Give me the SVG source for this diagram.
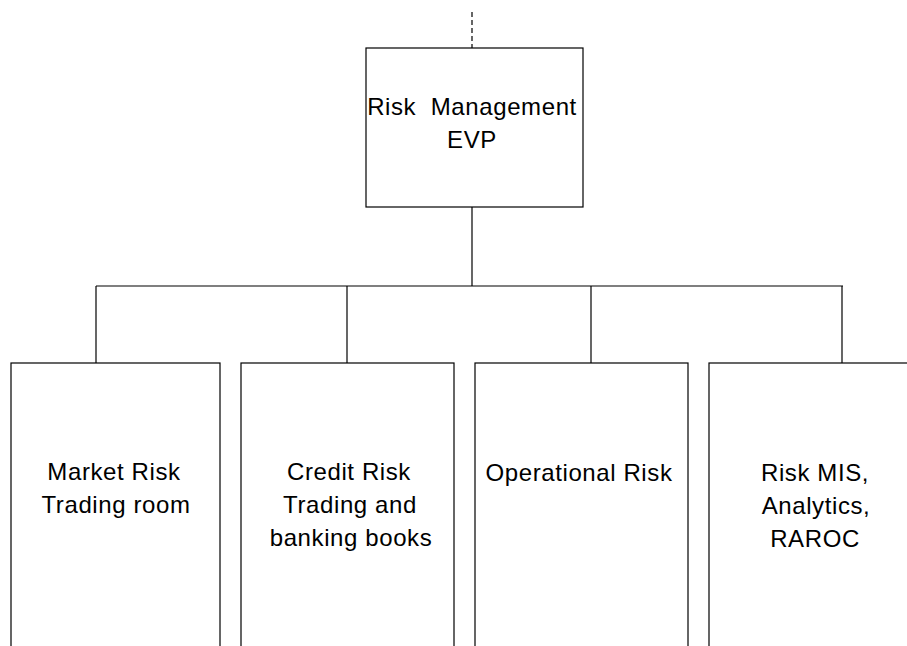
<svg xmlns="http://www.w3.org/2000/svg" width="907" height="646" viewBox="0 0 907 646">
<style>
.box{fill:#fff;stroke:#000;stroke-width:1.2}
.ln{fill:none;stroke:#000;stroke-width:1.2}
.dash{fill:none;stroke:#000;stroke-width:1.2;stroke-dasharray:5 3}
text{font-family:"Liberation Sans",Arial,sans-serif;font-size:24px;fill:#000;text-anchor:middle;letter-spacing:0.6px}
</style>
<rect width="907" height="646" fill="#fff"/>
<g id="connectors">
<line class="dash" x1="472" y1="12" x2="472" y2="48"/>
<line class="ln" x1="472" y1="207" x2="472" y2="286"/>
<line class="ln" x1="96" y1="286" x2="843" y2="286"/>
<line class="ln" x1="96" y1="286" x2="96" y2="364"/>
<line class="ln" x1="347" y1="286" x2="347" y2="364"/>
<line class="ln" x1="591" y1="286" x2="591" y2="364"/>
<line class="ln" x1="842" y1="286" x2="842" y2="364"/>
</g>
<g id="risk-management-evp">
<rect class="box" x="366" y="48" width="217" height="159"/>
<text x="472" y="115" xml:space="preserve">Risk  Management</text>
<text x="472" y="148">EVP</text>
</g>
<g id="market-risk">
<rect class="box" x="11" y="363" width="209" height="300"/>
<text x="114" y="480">Market Risk</text>
<text x="116" y="513">Trading room</text>
</g>
<g id="credit-risk">
<rect class="box" x="241" y="363" width="213" height="300"/>
<text x="349" y="480">Credit Risk</text>
<text x="350" y="513">Trading and</text>
<text x="351" y="546">banking books</text>
</g>
<g id="operational-risk">
<rect class="box" x="475" y="363" width="213" height="300"/>
<text x="579" y="481">Operational Risk</text>
</g>
<g id="risk-mis">
<rect class="box" x="709" y="363" width="260" height="300"/>
<text x="815" y="481">Risk MIS,</text>
<text x="816" y="514">Analytics,</text>
<text x="815" y="547">RAROC</text>
</g>
</svg>
